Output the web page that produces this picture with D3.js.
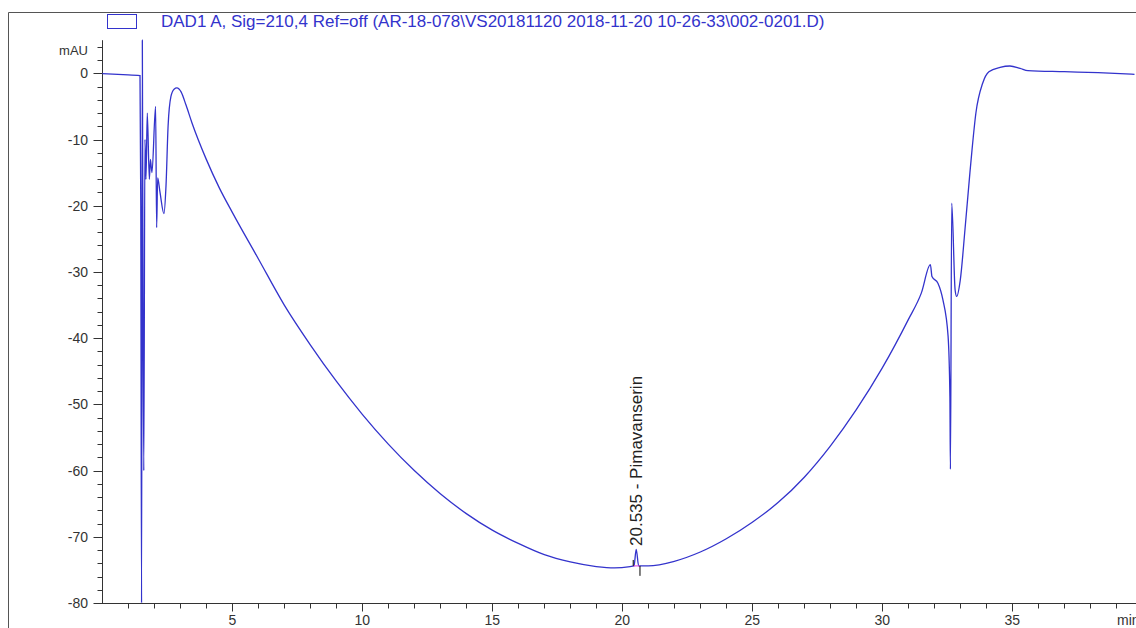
<!DOCTYPE html>
<html>
<head>
<meta charset="utf-8">
<script src="https://cdn.jsdelivr.net/npm/d3@7"></script>
<style>
body { margin:0; background:#fff; }
text { font-family:"Liberation Sans", Arial, sans-serif; }
.axis text { font-size:14px; fill:#333; }
.axis path, .axis line { stroke:#333; }
</style>
</head>
<body>
<script>

// chromatogram trace (minutes, mAU)
var times = [0, 0.8, 1.45, 1.48, 1.51, 1.54, 1.565, 1.596, 1.64, 1.68, 1.73, 1.81, 1.85, 1.91, 2.05, 2.09, 2.13, 2.22, 2.37, 2.45, 2.53, 2.64, 2.76, 2.87, 3.03, 3.22, 3.45,
  4.0, 4.5, 5, 6, 7, 8, 9, 10, 11, 12, 13, 14, 15, 16, 17, 18, 19, 19.7, 20.3, 20.45, 20.535, 20.63, 21, 22, 23, 24, 25, 26, 27, 28, 29, 30, 31, 31.5,
  31.85, 31.91, 32.14, 32.33, 32.53, 32.6, 32.62, 32.67, 32.8, 32.86, 33, 33.18, 33.37, 33.45, 33.6, 33.86, 34.1, 34.53, 34.91, 35.3, 35.6, 37.0, 38.3, 39.7];
var signal = [-0.05, -0.2, -0.35, -20, -80, 5, -33, -60, -10, -16, -6, -16, -13, -15, -5, -23.3, -15.8, -18, -21.2, -17, -8, -3.5, -2.4, -2.2, -2.8, -4.8, -7.5,
  -13, -17.3, -21, -28, -35, -41, -46.5, -51.5, -56, -60, -63.5, -66.5, -69, -71, -72.7, -73.8, -74.5, -74.7, -74.5, -74.4, -71.9, -74.4, -74.4, -73.7, -72.3, -70.3, -67.8, -64.8, -61, -56.3, -50.8, -44.5, -37.2, -33.2,
  -28.9, -30.7, -31.7, -34.2, -39.7, -48.8, -59.8, -19.6, -32.7, -33.7, -31.2, -23.6, -15, -11.6, -6, -1.5, 0.24, 0.9, 1.1, 0.75, 0.4, 0.24, 0.1, -0.15];

// integrated peak
var peakRT = 20.535;
var peakName = "Pimavanserin";
var peakStart = 20.42, peakEnd = 20.68, peakBase = -74.4;

var legendText = "DAD1 A, Sig=210,4 Ref=off (AR-18-078\\VS20181120 2018-11-20 10-26-33\\002-0201.D)";

var yMajor = d3.range(-80, 1, 10);
var yMinor = d3.range(-80, 5, 2);
var xMajor = [5, 10, 15, 20, 25, 30, 35];
var xMinor = d3.range(1, 40, 1);

var W = 1136, H = 628;
var svg = d3.select("body").append("svg").attr("width", W).attr("height", H);

var x = d3.scaleLinear().domain([0, 40]).range([102.3, 1142.3]);
var y = d3.scaleLinear().domain([-80, 0]).range([603, 73.3]);

// outer frame
svg.append("path")
  .attr("d", "M8.5," + H + "V12.5H" + W)
  .attr("fill", "none").attr("stroke", "#555").attr("stroke-width", 1);

// legend
svg.append("rect").attr("x", 107.5).attr("y", 14.5).attr("width", 29).attr("height", 14)
  .attr("fill", "none").attr("stroke", "#3333cc");
svg.append("text").attr("x", 161).attr("y", 27).attr("font-size", 17).attr("fill", "#3333cc")
  .text(legendText);

// y axis
var ya = svg.append("g").attr("class", "axis");
ya.append("line").attr("x1", 102.5).attr("x2", 102.5).attr("y1", y(-80)).attr("y2", y(5));
ya.selectAll(".mn").data(yMinor).enter().append("line")
  .attr("x1", 97.5).attr("x2", 102.5).attr("y1", d => Math.round(y(d)) + 0.5).attr("y2", d => Math.round(y(d)) + 0.5);
ya.selectAll(".mj").data(yMajor).enter().append("line")
  .attr("x1", 93.5).attr("x2", 102.5).attr("y1", d => Math.round(y(d)) + 0.5).attr("y2", d => Math.round(y(d)) + 0.5);
ya.selectAll(".lb").data(yMajor).enter().append("text")
  .attr("x", 88).attr("y", d => y(d) + 5).attr("text-anchor", "end").text(d => d);
ya.append("text").attr("x", 88).attr("y", 55).attr("text-anchor", "end").style("font-size", "13px").text("mAU");

// x axis
var xa = svg.append("g").attr("class", "axis");
xa.append("line").attr("x1", 102).attr("x2", W).attr("y1", 603.5).attr("y2", 603.5);
xa.selectAll(".mn").data(xMinor).enter().append("line")
  .attr("x1", d => Math.round(x(d)) + 0.5).attr("x2", d => Math.round(x(d)) + 0.5).attr("y1", 603.5).attr("y2", 608.5);
xa.selectAll(".mj").data(xMajor).enter().append("line")
  .attr("x1", d => Math.round(x(d)) + 0.5).attr("x2", d => Math.round(x(d)) + 0.5).attr("y1", 603.5).attr("y2", 611.5);
xa.selectAll(".lb").data(xMajor).enter().append("text")
  .attr("x", d => x(d)).attr("y", 625).attr("text-anchor", "middle").text(d => d);
xa.append("text").attr("x", 1117).attr("y", 625).text("min");

// trace
var pts = times.map((t, i) => [t, signal[i]]);
var line = d3.line().x(d => x(d[0])).y(d => y(d[1])).curve(d3.curveMonotoneX);
svg.append("path").datum(pts).attr("d", line)
  .attr("fill", "none").attr("stroke", "#3333cc").attr("stroke-width", 1.3);

// peak baseline and markers
svg.append("line").attr("x1", x(peakStart)).attr("x2", x(peakEnd)).attr("y1", y(peakBase)).attr("y2", y(peakBase))
  .attr("stroke", "#e040e0").attr("stroke-width", 1);
svg.append("line").attr("x1", x(peakStart)).attr("x2", x(peakStart)).attr("y1", y(peakBase + 0.9)).attr("y2", y(peakBase))
  .attr("stroke", "#000");
svg.append("line").attr("x1", x(peakEnd)).attr("x2", x(peakEnd)).attr("y1", y(peakBase)).attr("y2", y(peakBase - 1.5))
  .attr("stroke", "#000");

// peak label
svg.append("text")
  .attr("transform", "translate(" + (x(peakRT) + 6) + "," + 546 + ") rotate(-90)")
  .attr("font-size", 17).attr("fill", "#222")
  .text(peakRT.toFixed(3) + " -  " + peakName);

</script>
</body>
</html>
